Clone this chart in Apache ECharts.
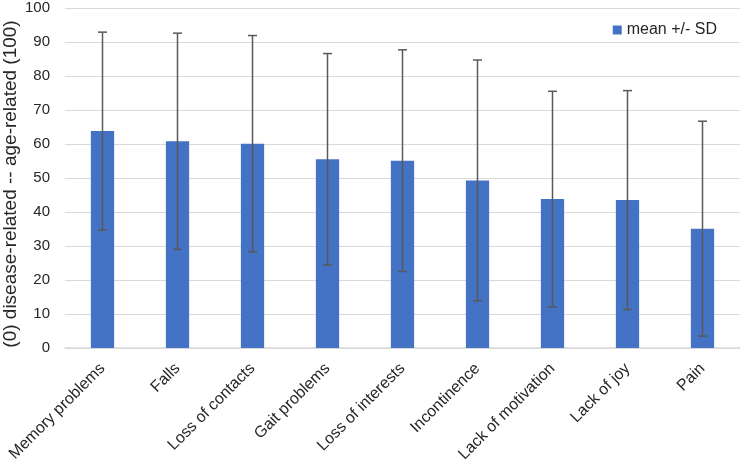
<!DOCTYPE html>
<html>
<head>
<meta charset="utf-8">
<script src="https://cdn.jsdelivr.net/npm/echarts@6/dist/echarts.min.js"></script>
<style>
  html, body { margin: 0; padding: 0; background: #fff; }
  #chart { width: 744px; height: 462px; }
</style>
</head>
<body>
<div id="chart"></div>
<script>
const categories = ['Memory problems', 'Falls', 'Loss of contacts', 'Gait problems', 'Loss of interests', 'Incontinence', 'Lack of motivation', 'Lack of joy', 'Pain']
const means = [63.8, 60.8, 60.1, 55.5, 55.1, 49.3, 43.8, 43.5, 35.1]
const sds = [29.1, 31.8, 31.8, 31.1, 32.6, 35.4, 31.7, 32.2, 31.6]

const chart = echarts.init(document.getElementById('chart'))

// error bar data: [index, low, high]
const errData = means.map((m, i) => [i, m - sds[i], m + sds[i]])

const option = {
  animation: false,
  textStyle: { fontFamily: 'Liberation Sans, Arial, sans-serif' },
  grid: { left: 65, right: 4, top: 8, bottom: 114, outerBoundsMode: 'none', containLabel: false },
  legend: {
    data: [{ name: 'mean +/- SD', icon: 'rect' }],
    right: 22,
    top: 17,
    itemWidth: 9,
    itemHeight: 9,
    itemGap: 4,
    textStyle: { fontSize: 16, color: '#262626' },
  },
  xAxis: {
    type: 'category',
    data: categories,
    axisTick: { show: false },
    axisLine: { lineStyle: { color: '#d9d9d9', width: 1.5 } },
    axisLabel: { rotate: 45, interval: 0, fontSize: 16, color: '#262626', margin: 18 },
  },
  yAxis: {
    type: 'value',
    min: 0,
    max: 100,
    interval: 10,
    name: '(0) disease-related -- age-related (100)',
    nameLocation: 'middle',
    nameGap: 45,
    nameMoveOverlap: false,
    nameTextStyle: { fontSize: 19, color: '#262626', padding: [0, 12, 0, 0] },
    axisLine: { show: false },
    axisTick: { show: false },
    axisLabel: { fontSize: 15, color: '#262626', margin: 15 },
    splitLine: { lineStyle: { color: '#d9d9d9', width: 1.2 } },
  },
  series: [
    {
      name: 'mean +/- SD',
      type: 'bar',
      data: means,
      barWidth: '31%',
      itemStyle: { color: '#4472C4' },
    },
    {
      name: 'sd',
      type: 'custom',
      data: errData,
      z: 10,
      renderItem: function (params, api) {
        const lo = api.coord([api.value(0), api.value(1)])
        const hi = api.coord([api.value(0), api.value(2)])
        const half = 4.5
        const style = { stroke: '#595959', lineWidth: 1.5 }
        return {
          type: 'group',
          children: [
            { type: 'line', shape: { x1: hi[0], y1: hi[1], x2: lo[0], y2: lo[1] }, style },
            { type: 'line', shape: { x1: hi[0] - half, y1: hi[1], x2: hi[0] + half, y2: hi[1] }, style },
            { type: 'line', shape: { x1: lo[0] - half, y1: lo[1], x2: lo[0] + half, y2: lo[1] }, style },
          ],
        }
      },
    },
  ],
}
chart.setOption(option)
</script>
</body>
</html>
